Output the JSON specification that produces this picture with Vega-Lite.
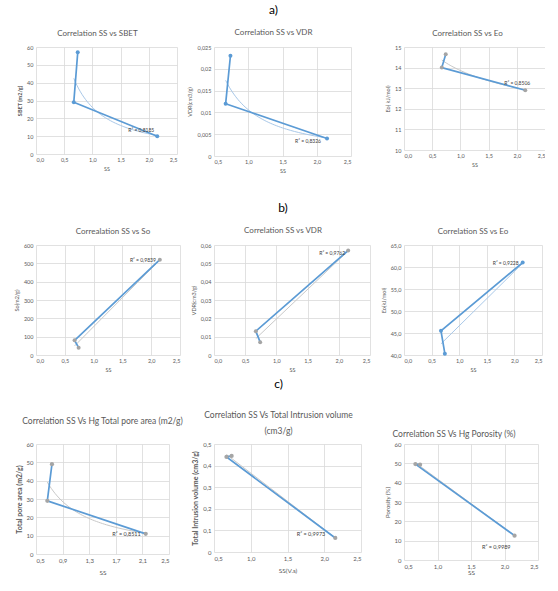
{
  "$schema": "https://vega.github.io/schema/vega-lite/v6.json",
  "background": "white",
  "padding": {"left": 14, "top": 4, "right": 0, "bottom": 0},
  "data": {
    "values": [
      {"order": 1, "ss": 0.74, "sbet": 57, "vdr_a": 0.023, "eo_a": 14.65, "so": 40, "vdr_b": 0.007, "eo_b": 40.3, "pore": 49, "intr": 0.445, "poro": 49.3},
      {"order": 2, "ss": 0.67, "sbet": 29, "vdr_a": 0.012, "eo_a": 14.0, "so": 80, "vdr_b": 0.013, "eo_b": 45.5, "pore": 29, "intr": 0.44, "poro": 49.6},
      {"order": 3, "ss": 2.15, "sbet": 10, "vdr_a": 0.004, "eo_a": 12.9, "so": 520, "vdr_b": 0.057, "eo_b": 61.0, "pore": 11, "intr": 0.065, "poro": 12.6}
    ]
  },
  "config": {
    "font": "Lato",
    "view": {"stroke": null},
    "title": {"fontSize": 8, "fontWeight": "normal", "color": "#595959", "anchor": "middle", "offset": 7},
    "axis": {"labelFontSize": 5.5, "labelColor": "#595959", "titleFontSize": 5.5, "titleColor": "#595959", "titleFontWeight": "normal", "gridColor": "#D9D9D9", "gridWidth": 0.8, "domain": false, "ticks": false, "labelPadding": 3, "titlePadding": 4}
  },
  "columns": 3,
  "bounds": "flush",
  "spacing": {"row": 89, "column": 34},
  "concat": [
    {
      "width": 141, "height": 107,
      "title": {"text": "Correlation SS vs SBET", "dx": -9},
      "encoding": {
        "x": {"field": "ss", "type": "quantitative", "scale": {"domain": [0, 2.5], "nice": false}, "axis": {"values": [0, 0.5, 1, 1.5, 2, 2.5], "title": "SS", "labelExpr": "replace(format(datum.value, '.1f'), '.', ',')"}},
        "y": {"field": "sbet", "type": "quantitative", "scale": {"domain": [0, 60], "nice": false}, "axis": {"values": [0, 10, 20, 30, 40, 50, 60], "title": "SBET (m2/g)", "titleFontWeight": "bold", "labelExpr": "replace(format(datum.value, '~g'), '.', ',')"}}
      },
      "layer": [
        {"transform": [{"regression": "sbet", "on": "ss", "method": "pow"}], "mark": {"type": "line", "color": "#A9C8E8", "strokeWidth": 1}},
        {"mark": {"type": "line", "color": "#5B9BD5", "strokeWidth": 1.7}, "encoding": {"order": {"field": "order"}}},
        {"mark": {"type": "circle", "color": "#5B9BD5", "size": 16, "opacity": 1}},
        {"transform": [{"filter": "datum.order == 3"}], "mark": {"type": "text", "align": "right", "baseline": "middle", "dx": -3, "dy": -6, "fontSize": 5, "color": "#404040"}, "encoding": {"text": {"value": "R² = 0,8185"}}}
      ]
    },
    {
      "width": 137, "height": 109,
      "title": {"text": "a)", "subtitle": "Correlation SS vs VDR", "fontSize": 12, "color": "#000000", "subtitleFontSize": 8, "subtitleColor": "#595959", "subtitlePadding": 12, "dx": -9},
      "encoding": {
        "x": {"field": "ss", "type": "quantitative", "scale": {"domain": [0.5, 2.5], "nice": false, "zero": false}, "axis": {"values": [0.5, 1, 1.5, 2, 2.5], "title": "SS", "labelExpr": "replace(format(datum.value, '.1f'), '.', ',')"}},
        "y": {"field": "vdr_a", "type": "quantitative", "scale": {"domain": [0, 0.025], "nice": false}, "axis": {"values": [0, 0.005, 0.01, 0.015, 0.02, 0.025], "title": "VDR(cm3/g)", "labelExpr": "replace(format(datum.value, '~g'), '.', ',')"}}
      },
      "layer": [
        {"transform": [{"regression": "vdr_a", "on": "ss", "method": "pow"}], "mark": {"type": "line", "color": "#A9C8E8", "strokeWidth": 1}},
        {"mark": {"type": "line", "color": "#5B9BD5", "strokeWidth": 1.7}, "encoding": {"order": {"field": "order"}}},
        {"mark": {"type": "circle", "color": "#5B9BD5", "size": 16, "opacity": 1}},
        {"transform": [{"filter": "datum.order == 3"}], "mark": {"type": "text", "align": "right", "baseline": "middle", "dx": -6, "dy": 2, "fontSize": 5, "color": "#404040"}, "encoding": {"text": {"value": "R² = 0,8326"}}}
      ]
    },
    {
      "width": 141, "height": 103,
      "title": {"text": "Correlation SS vs Eo", "dx": -7},
      "encoding": {
        "x": {"field": "ss", "type": "quantitative", "scale": {"domain": [0, 2.5], "nice": false}, "axis": {"values": [0, 0.5, 1, 1.5, 2, 2.5], "title": "SS", "labelExpr": "replace(format(datum.value, '.1f'), '.', ',')"}},
        "y": {"field": "eo_a", "type": "quantitative", "scale": {"domain": [10, 15], "nice": false, "zero": false}, "axis": {"values": [10, 11, 12, 13, 14, 15], "title": "Eo( kJ/mol)", "labelExpr": "replace(format(datum.value, '~g'), '.', ',')"}}
      },
      "layer": [
        {"transform": [{"regression": "eo_a", "on": "ss", "method": "pow"}], "mark": {"type": "line", "color": "#C8C8C8", "strokeWidth": 1}},
        {"mark": {"type": "line", "color": "#5B9BD5", "strokeWidth": 1.7}, "encoding": {"order": {"field": "order"}}},
        {"mark": {"type": "circle", "color": "#A5A5A5", "size": 16, "opacity": 1}},
        {"transform": [{"filter": "datum.order == 3"}], "mark": {"type": "text", "align": "center", "baseline": "middle", "dx": -8, "dy": -7, "fontSize": 5, "color": "#404040"}, "encoding": {"text": {"value": "R² = 0,8506"}}}
      ]
    },
    {
      "width": 144, "height": 110,
      "title": {"text": "Correalation SS vs So", "dx": 5},
      "encoding": {
        "x": {"field": "ss", "type": "quantitative", "scale": {"domain": [0, 2.5], "nice": false}, "axis": {"values": [0, 0.5, 1, 1.5, 2, 2.5], "title": "SS", "labelExpr": "replace(format(datum.value, '.1f'), '.', ',')"}},
        "y": {"field": "so", "type": "quantitative", "scale": {"domain": [0, 600], "nice": false}, "axis": {"values": [0, 100, 200, 300, 400, 500, 600], "title": "So(m2/g)", "labelExpr": "replace(format(datum.value, '~g'), '.', ',')"}}
      },
      "layer": [
        {"transform": [{"regression": "so", "on": "ss", "method": "linear"}], "mark": {"type": "line", "color": "#C8C8C8", "strokeWidth": 1}},
        {"mark": {"type": "line", "color": "#5B9BD5", "strokeWidth": 1.7}, "encoding": {"order": {"field": "order"}}},
        {"mark": {"type": "circle", "color": "#A5A5A5", "size": 16, "opacity": 1}},
        {"transform": [{"filter": "datum.order == 3"}], "mark": {"type": "text", "align": "right", "baseline": "middle", "dx": -4, "dy": 0, "fontSize": 5, "color": "#404040"}, "encoding": {"text": {"value": "R² = 0,9839"}}}
      ]
    },
    {
      "width": 156, "height": 110,
      "title": {"text": "b)", "subtitle": "Correlation SS vs VDR", "fontSize": 12, "color": "#000000", "subtitleFontSize": 8, "subtitleColor": "#595959", "subtitlePadding": 12, "dx": -9},
      "encoding": {
        "x": {"field": "ss", "type": "quantitative", "scale": {"domain": [0, 2.5], "nice": false}, "axis": {"values": [0, 0.5, 1, 1.5, 2, 2.5], "title": "SS", "labelExpr": "replace(format(datum.value, '.1f'), '.', ',')"}},
        "y": {"field": "vdr_b", "type": "quantitative", "scale": {"domain": [0, 0.06], "nice": false}, "axis": {"values": [0, 0.01, 0.02, 0.03, 0.04, 0.05, 0.06], "title": "VDR(cm3/g)", "labelExpr": "replace(format(datum.value, '~g'), '.', ',')"}}
      },
      "layer": [
        {"transform": [{"regression": "vdr_b", "on": "ss", "method": "linear"}], "mark": {"type": "line", "color": "#C8C8C8", "strokeWidth": 1}},
        {"mark": {"type": "line", "color": "#5B9BD5", "strokeWidth": 1.7}, "encoding": {"order": {"field": "order"}}},
        {"mark": {"type": "circle", "color": "#A5A5A5", "size": 16, "opacity": 1}},
        {"transform": [{"filter": "datum.order == 3"}], "mark": {"type": "text", "align": "right", "baseline": "middle", "dx": -3, "dy": 2, "fontSize": 5, "color": "#404040"}, "encoding": {"text": {"value": "R² = 0,9762"}}}
      ]
    },
    {
      "width": 138, "height": 110,
      "title": {"text": "Correlation SS vs Eo"},
      "encoding": {
        "x": {"field": "ss", "type": "quantitative", "scale": {"domain": [0, 2.5], "nice": false}, "axis": {"values": [0, 0.5, 1, 1.5, 2, 2.5], "title": "SS", "labelExpr": "replace(format(datum.value, '.1f'), '.', ',')"}},
        "y": {"field": "eo_b", "type": "quantitative", "scale": {"domain": [40, 65], "nice": false, "zero": false}, "axis": {"values": [40, 45, 50, 55, 60, 65], "title": "Eo(kJ/mol)", "labelExpr": "replace(format(datum.value, '.1f'), '.', ',')"}}
      },
      "layer": [
        {"transform": [{"regression": "eo_b", "on": "ss", "method": "linear"}], "mark": {"type": "line", "color": "#A9C8E8", "strokeWidth": 1}},
        {"mark": {"type": "line", "color": "#5B9BD5", "strokeWidth": 1.7}, "encoding": {"order": {"field": "order"}}},
        {"mark": {"type": "circle", "color": "#5B9BD5", "size": 16, "opacity": 1}},
        {"transform": [{"filter": "datum.order == 3"}], "mark": {"type": "text", "align": "right", "baseline": "middle", "dx": -4, "dy": 0, "fontSize": 5, "color": "#404040"}, "encoding": {"text": {"value": "R² = 0,9228"}}}
      ]
    },
    {
      "width": 133, "height": 110,
      "title": {"text": "Correlation SS Vs Hg Total pore area (m2/g)", "fontSize": 8.5, "offset": 16},
      "encoding": {
        "x": {"field": "ss", "type": "quantitative", "scale": {"domain": [0.5, 2.5], "nice": false, "zero": false}, "axis": {"values": [0.5, 0.9, 1.3, 1.7, 2.1, 2.5], "title": "SS", "titleFontSize": 6.5, "labelFontSize": 6, "titlePadding": 6, "labelExpr": "replace(format(datum.value, '.1f'), '.', ',')"}},
        "y": {"field": "pore", "type": "quantitative", "scale": {"domain": [0, 60], "nice": false}, "axis": {"values": [0, 10, 20, 30, 40, 50, 60], "title": "Total pore area (m2/g)", "titleFontSize": 7, "titleFontWeight": "bold", "labelFontSize": 6, "labelExpr": "replace(format(datum.value, '~g'), '.', ',')"}}
      },
      "layer": [
        {"transform": [{"regression": "pore", "on": "ss", "method": "pow"}], "mark": {"type": "line", "color": "#C8C8C8", "strokeWidth": 1}},
        {"mark": {"type": "line", "color": "#5B9BD5", "strokeWidth": 1.7}, "encoding": {"order": {"field": "order"}}},
        {"mark": {"type": "circle", "color": "#A5A5A5", "size": 18, "opacity": 1}},
        {"transform": [{"filter": "datum.order == 3"}], "mark": {"type": "text", "align": "right", "baseline": "middle", "dx": -5, "dy": 0, "fontSize": 5.5, "color": "#404040"}, "encoding": {"text": {"value": "R² = 0,8511"}}}
      ]
    },
    {
      "width": 147, "height": 108,
      "title": {"text": "c)", "subtitle": ["Correlation SS Vs Total Intrusion volume", "(cm3/g)"], "fontSize": 12, "color": "#000000", "subtitleFontSize": 8.5, "subtitleColor": "#595959", "subtitlePadding": 20, "subtitleLineHeight": 16, "offset": 5, "dx": -9},
      "encoding": {
        "x": {"field": "ss", "type": "quantitative", "scale": {"domain": [0.5, 2.5], "nice": false, "zero": false}, "axis": {"values": [0.5, 1, 1.5, 2, 2.5], "title": "SS(V.s)", "titleFontSize": 6.5, "labelFontSize": 6, "titlePadding": 6, "labelExpr": "replace(format(datum.value, '.1f'), '.', ',')"}},
        "y": {"field": "intr", "type": "quantitative", "scale": {"domain": [0, 0.5], "nice": false}, "axis": {"values": [0, 0.1, 0.2, 0.3, 0.4, 0.5], "title": "Total Intrusion volume (cm3/g)", "titleFontSize": 7, "titleFontWeight": "bold", "labelFontSize": 6, "labelExpr": "replace(format(datum.value, '~g'), '.', ',')"}}
      },
      "layer": [
        {"transform": [{"regression": "intr", "on": "ss", "method": "linear"}], "mark": {"type": "line", "color": "#C8C8C8", "strokeWidth": 1}},
        {"mark": {"type": "line", "color": "#5B9BD5", "strokeWidth": 1.7}, "encoding": {"order": {"field": "order"}}},
        {"mark": {"type": "circle", "color": "#A5A5A5", "size": 18, "opacity": 1}},
        {"transform": [{"filter": "datum.order == 3"}], "mark": {"type": "text", "align": "right", "baseline": "middle", "dx": -10, "dy": -4, "fontSize": 5.5, "color": "#404040"}, "encoding": {"text": {"value": "R² = 0,9973"}}}
      ]
    },
    {
      "width": 134, "height": 116,
      "title": {"text": "Correlation SS Vs Hg Porosity (%)", "fontSize": 8.5, "offset": 3, "dx": -17},
      "encoding": {
        "x": {"field": "ss", "type": "quantitative", "scale": {"domain": [0.5, 2.5], "nice": false, "zero": false}, "axis": {"values": [0.5, 1, 1.5, 2, 2.5], "title": "SS", "titleFontSize": 6.5, "labelFontSize": 6, "titlePadding": 0, "labelExpr": "replace(format(datum.value, '.1f'), '.', ',')"}},
        "y": {"field": "poro", "type": "quantitative", "scale": {"domain": [0, 60], "nice": false}, "axis": {"values": [0, 10, 20, 30, 40, 50, 60], "title": "Porosity (%)", "titleFontSize": 6, "labelFontSize": 6, "labelExpr": "replace(format(datum.value, '~g'), '.', ',')"}}
      },
      "layer": [
        {"transform": [{"regression": "poro", "on": "ss", "method": "linear"}], "mark": {"type": "line", "color": "#C8C8C8", "strokeWidth": 1}},
        {"mark": {"type": "line", "color": "#5B9BD5", "strokeWidth": 1.7}, "encoding": {"order": {"field": "order"}}},
        {"mark": {"type": "circle", "color": "#A5A5A5", "size": 18, "opacity": 1}},
        {"transform": [{"filter": "datum.order == 3"}], "mark": {"type": "text", "align": "right", "baseline": "middle", "dx": -4, "dy": 11, "fontSize": 5.5, "color": "#404040"}, "encoding": {"text": {"value": "R² = 0,9989"}}}
      ]
    }
  ]
}
